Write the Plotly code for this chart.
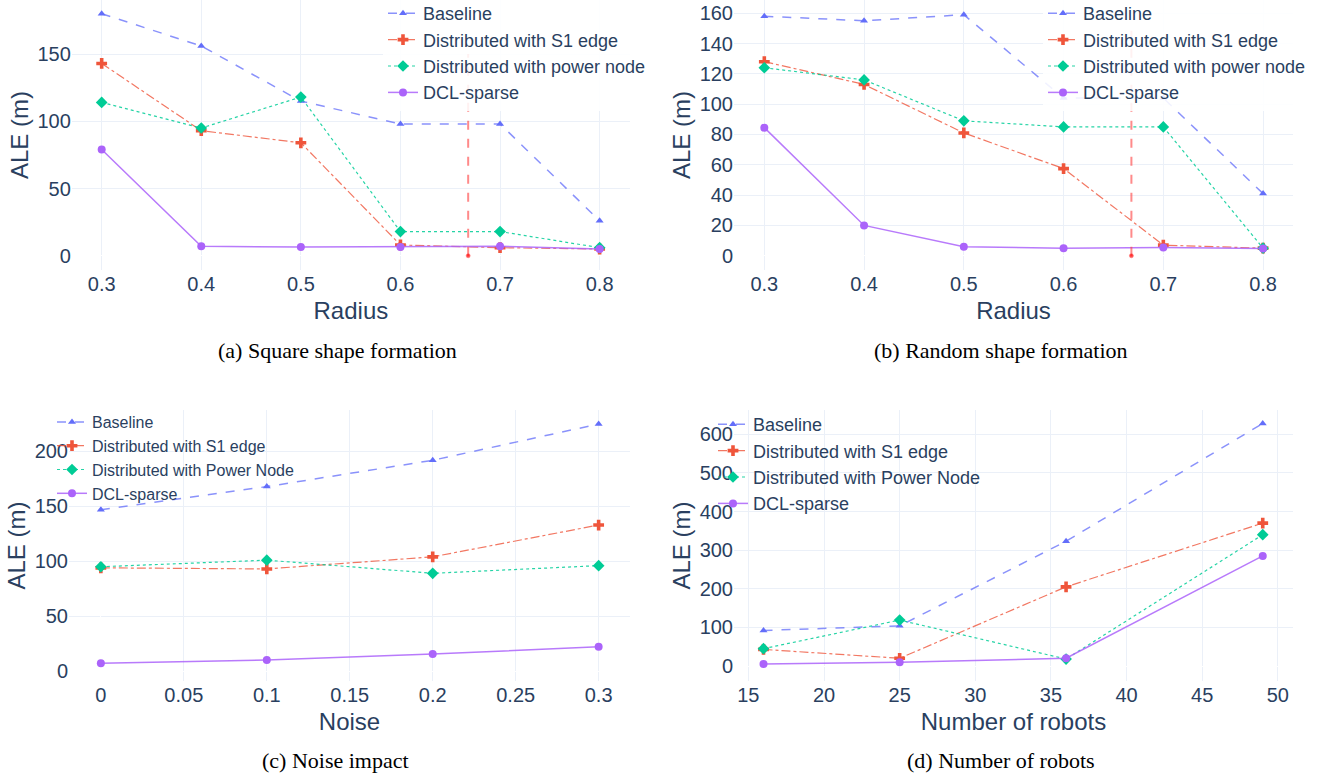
import plotly.graph_objects as go

# ---------------- data ----------------
radius = [0.3, 0.4, 0.5, 0.6, 0.7, 0.8]
sq_baseline = [180, 156, 115, 98, 98, 26]
sq_s1 = [143, 93, 84, 8, 6, 5]
sq_power = [114, 95, 118, 18, 18, 6]
sq_dcl = [79, 7, 6.5, 6.5, 7, 5]

rd_baseline = [158, 155, 159, 104, 104, 41]
rd_s1 = [128, 113, 81, 57.5, 7, 5]
rd_power = [124, 116, 89, 85, 85, 5]
rd_dcl = [84.5, 20, 6, 5, 5.5, 4.8]

threshold_radius = 0.668
threshold_span = [0, 150]

noise = [0, 0.1, 0.2, 0.3]
nz_baseline = [147, 168, 192, 225]
nz_s1 = [94, 93, 104, 133]
nz_power = [95, 101, 89, 96]
nz_dcl = [7, 10, 15.5, 22]

robots = [16, 25, 36, 49]
rb_baseline = [92, 104, 323, 628]
rb_s1 = [43, 20, 205, 370]
rb_power = [45, 119, 18, 340]
rb_dcl = [5, 10, 20, 285]

names_lower = ["Baseline", "Distributed with S1 edge", "Distributed with power node", "DCL-sparse"]
names_upper = ["Baseline", "Distributed with S1 edge", "Distributed with Power Node", "DCL-sparse"]
captions = ["(a) Square shape formation", "(b) Random shape formation",
            "(c) Noise impact", "(d) Number of robots"]

# ---------------- styling ----------------
W, H = 1325, 774
FONT = "Liberation Sans, Arial, sans-serif"
TXT = "#2a3f5f"
styles = [
    dict(line=dict(color="rgba(99,110,250,0.75)", dash="dash", width=1.5),
         marker=dict(color="#636efa", symbol="triangle-up", size=7)),
    dict(line=dict(color="rgba(239,85,59,0.8)", dash="dashdot", width=1.2),
         marker=dict(color="#EF553B", symbol="cross", size=9)),
    dict(line=dict(color="rgba(0,204,150,0.85)", dash="dot", width=1.2),
         marker=dict(color="#00cc96", symbol="diamond", size=9)),
    dict(line=dict(color="rgba(171,99,250,0.85)", width=1.5),
         marker=dict(color="#ab63fa", symbol="circle", size=8)),
]


def px_x(p):
    return p / W


def px_y(p):
    return 1 - p / H


fig = go.Figure()

panels = [
    dict(x=radius, ys=[sq_baseline, sq_s1, sq_power, sq_dcl], names=names_lower,
         xa="x", ya="y", leg="legend"),
    dict(x=radius, ys=[rd_baseline, rd_s1, rd_power, rd_dcl], names=names_lower,
         xa="x2", ya="y2", leg="legend2"),
    dict(x=noise, ys=[nz_baseline, nz_s1, nz_power, nz_dcl], names=names_upper,
         xa="x3", ya="y3", leg="legend3"),
    dict(x=robots, ys=[rb_baseline, rb_s1, rb_power, rb_dcl], names=names_upper,
         xa="x4", ya="y4", leg="legend4"),
]

yranges = [[-10.6, 190.2], [-9.4, 168.7], [-9.1, 237.8], [-38.8, 662.9]]

for pi, p in enumerate(panels):
    for ys, nm, st in zip(p["ys"], p["names"], styles):
        fig.add_trace(go.Scatter(x=p["x"], y=ys, name=nm, mode="lines+markers",
                                 line=st["line"], marker=st["marker"],
                                 xaxis=p["xa"], yaxis=p["ya"], legend=p["leg"]))
    if pi < 2:
        fig.add_trace(go.Scatter(x=[threshold_radius, threshold_radius],
                                 y=threshold_span, mode="lines+markers",
                                 line=dict(color="rgba(255,60,60,0.6)", dash="dash", width=2),
                                 marker=dict(size=[4, 0], color="red"),
                                 showlegend=False, xaxis=p["xa"], yaxis=p["ya"]))

axis_common = dict(showgrid=True, gridcolor="#EBF0F8", zeroline=True,
                   zerolinecolor="white", zerolinewidth=1, showline=False,
                   ticks="", tickfont=dict(size=20, color=TXT, family=FONT),
                   title_font=dict(size=24, color=TXT, family=FONT))

domains_x = [[71.8, 630], [734, 1293], [69, 630], [734, 1293]]
domains_y = [[0, 270], [0, 270], [410, 681], [410, 681]]
xranges = [[0.27, 0.8305], [0.2696, 0.83], [-0.0192, 0.3189], [14.05, 51.0]]
xtitles = ["Radius", "Radius", "Noise", "Number of robots"]
xdticks = [0.1, 0.1, 0.05, 5]
ydticks = [50, 20, 50, 100]

for i in range(4):
    sfx = "" if i == 0 else str(i + 1)
    dx, dy = domains_x[i], domains_y[i]
    fig.update_layout(**{
        "xaxis" + sfx: dict(axis_common, domain=[px_x(dx[0]), px_x(dx[1])],
                            range=xranges[i], dtick=xdticks[i], tick0=0,
                            anchor="y" + sfx, title=dict(text=xtitles[i], standoff=8)),
        "yaxis" + sfx: dict(axis_common, domain=[px_y(dy[1]), px_y(dy[0])],
                            range=yranges[i], dtick=ydticks[i], tick0=0,
                            anchor="x" + sfx, title=dict(text="ALE (m)", standoff=2)),
    })

leg_common = dict(bgcolor="rgba(255,255,255,0.88)", borderwidth=0,
                  xanchor="left", yanchor="top", xref="paper", yref="paper",
                  font=dict(size=18, color=TXT, family=FONT))
fig.update_layout(
    legend=dict(leg_common, x=px_x(383), y=px_y(-5)),
    legend2=dict(leg_common, x=px_x(1043), y=px_y(-5)),
    legend3=dict(leg_common, x=px_x(52), y=px_y(405), bgcolor="rgba(255,255,255,0)",
                 font=dict(size=16, color=TXT, family=FONT)),
    legend4=dict(leg_common, x=px_x(713), y=px_y(406), bgcolor="rgba(255,255,255,0)"),
)

cap_pos = [(337, 350), (1001, 350), (336, 760), (1001, 760)]
for txt, (cx, cy) in zip(captions, cap_pos):
    fig.add_annotation(text=txt, x=px_x(cx), y=px_y(cy), xref="paper", yref="paper",
                       showarrow=False, xanchor="center", yanchor="middle",
                       font=dict(size=22, color="black", family="Liberation Serif, Times New Roman, serif"))

fig.update_layout(template="plotly_white", width=W, height=H,
                  margin=dict(l=0, r=0, t=0, b=0, autoexpand=False),
                  paper_bgcolor="white", plot_bgcolor="white",
                  font=dict(family=FONT, color=TXT))

fig.write_html("out.html", config={"displayModeBar": False},
               post_script="document.body.style.margin='0px';")
